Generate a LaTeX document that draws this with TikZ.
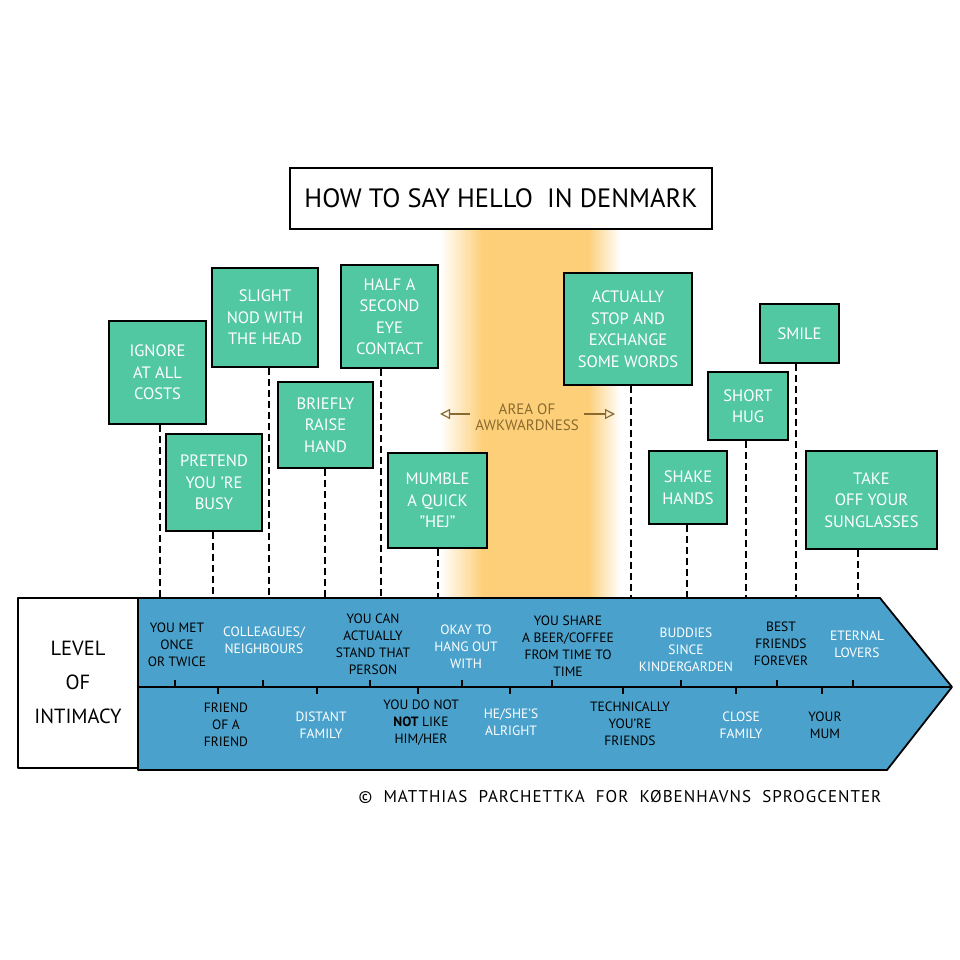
\documentclass[tikz,border=0pt]{standalone}
\usepackage{fontspec}
\setmainfont{PT Sans}
\usetikzlibrary{arrows.meta}
\definecolor{signgreen}{HTML}{52C8A2}
\definecolor{barblue}{HTML}{4AA2CC}
\definecolor{awk}{HTML}{FDCF78}
\definecolor{awktext}{HTML}{8A6A30}
\begin{document}
\begin{tikzpicture}[x=1pt,y=-1pt,
 sign/.style={draw=black, line width=1.6pt, fill=signgreen, text=white, align=center, inner sep=0pt, font=\fontsize{16.5}{21.5}\selectfont},
 post/.style={draw=black, line width=1.5pt, dash pattern=on 7pt off 4pt},
 outline/.style={draw=black, line width=1.8pt, line join=round},
 lbl/.style={align=center, inner sep=0pt, font=\fontsize{13.5}{17}\selectfont},
 wl/.style={lbl, text=white},
 bl/.style={lbl, text=black},
 tickmark/.style={draw=black, line width=1.4pt},
 awkarrow/.style={draw=awktext, line width=1.2pt, -{Triangle[open, length=10pt, width=10pt]}}]
\useasboundingbox (0,0) rectangle (960,960);
\fill[white] (0,0) rectangle (960,960);
% area of awkwardness band
\shade[left color=white, right color=awk] (440,229) rectangle (483,598);
\fill[awk] (482,229) rectangle (589,598);
\shade[left color=awk, right color=white] (588,229) rectangle (620,598);
% title
\node[draw=black, line width=1.6pt, fill=white, minimum width=422, minimum height=61, inner sep=0pt,
      font=\fontsize{26.5}{26.5}\selectfont] (title) at (501,198.5) {HOW TO SAY HELLO\ \ IN DENMARK};
% area of awkwardness label
\node[align=center, inner sep=1pt, text=awktext, font=\fontsize{15}{16}\selectfont] (awkl) at (527,417) {AREA OF\\AWKWARDNESS};
\coordinate (awkL) at (440,414);
\coordinate (awkR) at (615,414);
\draw[awkarrow] (awkl.west |- awkL) ++(-4,0) -- (awkL);
\draw[awkarrow] (awkl.east |- awkR) ++(4,0) -- (awkR);
% post ends on the bar
\coordinate (p1) at (160,598);
\coordinate (p2) at (213,598);
\coordinate (p3) at (269,598);
\coordinate (p4) at (325,598);
\coordinate (p5) at (381,598);
\coordinate (p6) at (438,598);
\coordinate (p7) at (631,598);
\coordinate (p8) at (687,598);
\coordinate (p9) at (746,598);
\coordinate (p10) at (796,598);
\coordinate (p11) at (858,598);
% signs
\node[sign, minimum width=97, minimum height=103] (s1) at (157.5,372.5) {IGNORE\\AT ALL\\COSTS};
\node[sign, minimum width=96, minimum height=97] (s2) at (214,482.5) {PRETEND\\YOU 'RE\\BUSY};
\node[sign, minimum width=106, minimum height=99] (s3) at (265,317.5) {SLIGHT\\NOD WITH\\THE HEAD};
\node[sign, minimum width=95, minimum height=86] (s4) at (325.5,425) {BRIEFLY\\RAISE\\HAND};
\node[sign, minimum width=97, minimum height=103] (s5) at (389.5,316.5) {HALF A\\SECOND\\EYE\\CONTACT};
\node[sign, minimum width=99, minimum height=95] (s6) at (437.5,500.5) {MUMBLE\\A QUICK\\"HEJ"};
\node[sign, minimum width=128, minimum height=112] (s7) at (628,329) {ACTUALLY\\STOP AND\\EXCHANGE\\SOME WORDS};
\node[sign, minimum width=78, minimum height=73] (s8) at (688,487.5) {SHAKE\\HANDS};
\node[sign, minimum width=80, minimum height=68] (s9) at (748,406) {SHORT\\HUG};
\node[sign, minimum width=79, minimum height=59] (s10) at (799.5,333.5) {SMILE};
\node[sign, minimum width=131, minimum height=98] (s11) at (871.5,500) {TAKE\\OFF YOUR\\SUNGLASSES};
% posts
\foreach \i in {1,...,11} {
  \draw[post] (s\i.south -| p\i) -- (p\i);
}
% bar
\draw[outline, fill=white] (18,598) rectangle (138,768);
\draw[outline, fill=barblue] (138,598) -- (880,598) -- (952,687) -- (887,770) -- (138,770) -- cycle;
\draw[outline] (138,687) -- (952,687);
\foreach \x in {175,263,370,462,552,681,777,853} {
  \draw[tickmark] (\x,687) -- (\x,680);
}
\foreach \x in {218,317,418,510,623,736,822} {
  \draw[tickmark] (\x,687) -- (\x,694);
}
\node[align=center, inner sep=0pt, font=\fontsize{20.5}{34}\selectfont] (level) at (78,682) {LEVEL\\OF\\INTIMACY};
% upper row
\node[bl] (b1) at (177,645) {YOU MET\\ONCE\\OR TWICE};
\node[wl] (b2) at (264,640) {COLLEAGUES/\\NEIGHBOURS};
\node[bl] (b3) at (373,644) {YOU CAN\\ACTUALLY\\STAND THAT\\PERSON};
\node[wl] (b4) at (466,647) {OKAY TO\\HANG OUT\\WITH};
\node[bl] (b5) at (568,646) {YOU SHARE\\A BEER/COFFEE\\FROM TIME TO\\TIME};
\node[wl] (b6) at (686,650) {BUDDIES\\SINCE\\KINDERGARDEN};
\node[bl] (b7) at (781,644) {BEST\\FRIENDS\\FOREVER};
\node[wl] (b8) at (857,644) {ETERNAL\\LOVERS};
% lower row
\node[bl] (c1) at (226,725) {FRIEND\\OF A\\FRIEND};
\node[wl] (c2) at (321,725) {DISTANT\\FAMILY};
\node[bl] (c3) at (421,723) {YOU DO NOT\\\textbf{NOT} LIKE\\HIM/HER};
\node[wl] (c4) at (511,722) {HE/SHE'S\\ALRIGHT};
\node[bl] (c5) at (630,724) {TECHNICALLY\\YOU'RE\\FRIENDS};
\node[wl] (c6) at (741,725) {CLOSE\\FAMILY};
\node[bl] (c7) at (825,725) {YOUR\\MUM};
% credit
\node[inner sep=0pt, font=\fontsize{17}{17}\selectfont] (credit) at (620,797) {\addfontfeature{LetterSpace=6}©\ \ MATTHIAS\ \ PARCHETTKA\ \ FOR\ \ KØBENHAVNS\ \ SPROGCENTER};
\end{tikzpicture}
\end{document}
